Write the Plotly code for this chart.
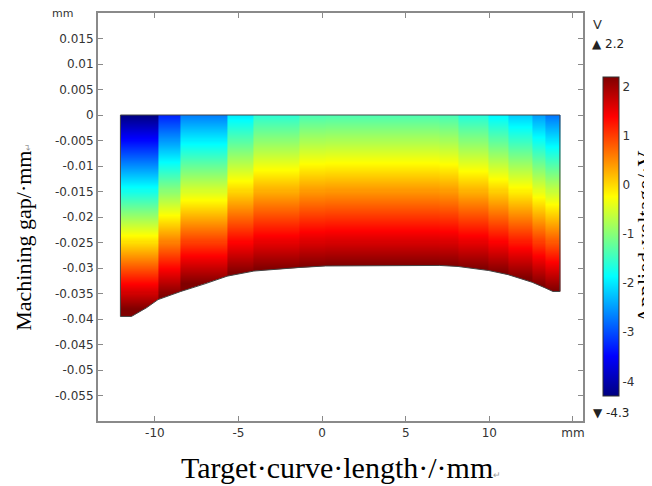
import numpy as np
import plotly.graph_objects as go

# column edges of the solution bands along the target curve (mm)
col_edges = [-12.06, -9.81, -8.45, -5.68, -4.08, -1.38, 0.22, 7.04, 8.13, 9.97, 11.12, 12.56, 13.34, 14.22]
# voltage at the tool side (y = 0) for each band (V)
top_volt = [-4.3, -3.3, -2.7, -2.0, -1.6, -1.4, -1.38, -1.42, -1.65, -1.93, -2.2, -2.5, -2.75]
# voltage at the workpiece side of each band (V)
bot_volt = [2.2, 2.2, 2.2, 2.2, 2.2, 2.2, 2.2, 2.2, 2.2, 2.2, 2.2, 2.2, 2.2]
# mean gap depth of each band (mm)
band_depth = [-0.038, -0.0354, -0.0331, -0.031, -0.0302, -0.0297, -0.0295, -0.0296, -0.0301, -0.0309, -0.032, -0.0334, -0.0345]

# lower boundary of the gap (workpiece surface)
bnd_x = [-12.06, -11.4, -10.5, -9.81, -8.45, -7.0, -5.68, -4.08, -1.38, 0.22, 7.04, 8.13, 9.97, 11.12, 12.56, 13.34, 13.8, 14.22]
bnd_y = [-0.0395, -0.0395, -0.0378, -0.0362, -0.0346, -0.0331, -0.0316, -0.0306, -0.0299, -0.0296, -0.0295, -0.0297, -0.0305, -0.0313, -0.0328, -0.0339, -0.0346, -0.0346]

zmin, zmax = -4.3, 2.2

x_ticks = [-10, -5, 0, 5, 10, 15]
x_text = ["-10", "-5", "0", "5", "10", "mm"]
y_ticks = [-0.055, -0.05, -0.045, -0.04, -0.035, -0.03, -0.025, -0.02, -0.015, -0.01, -0.005, 0, 0.005, 0.01, 0.015, 0.02]
y_text = ["-0.055", "-0.05", "-0.045", "-0.04", "-0.035", "-0.03", "-0.025", "-0.02", "-0.015", "-0.01", "-0.005", "0", "0.005", "0.01", "0.015", ""]
cb_ticks = [-4, -3, -2, -1, 0, 1, 2]

jet = [[0, "rgb(0,0,128)"], [0.125, "rgb(0,0,255)"], [0.375, "rgb(0,255,255)"],
       [0.625, "rgb(255,255,0)"], [0.875, "rgb(255,0,0)"], [1, "rgb(128,0,0)"]]

# vertical field in each band: linear between tool and workpiece values
y_edges = np.linspace(-0.0400, 0.0, 201)
yc = 0.5 * (y_edges[:-1] + y_edges[1:])
z = np.zeros((len(yc), len(top_volt)))
for j in range(len(top_volt)):
    z[:, j] = top_volt[j] + (bot_volt[j] - top_volt[j]) * yc / band_depth[j]
z = np.clip(z, zmin, zmax)

fig = go.Figure()
fig.add_trace(go.Heatmap(
    x=col_edges, y=y_edges, z=z, zmin=zmin, zmax=zmax, colorscale=jet, zsmooth=False,
    hoverinfo="skip",
    colorbar=dict(
        x=1.0412, xanchor="left", xpad=0, y=0.452, yanchor="middle", ypad=0,
        len=0.782, lenmode="fraction", thickness=16,
        outlinecolor="#333333", outlinewidth=1,
        tickvals=cb_ticks, ticktext=[str(v) for v in cb_ticks], ticks="",
        tickfont=dict(family="DejaVu Sans", size=12, color="#333333"),
    ),
))

# white cover below the workpiece surface
mask_x = [-12.4] + bnd_x + [14.6, 14.6, -12.4]
mask_y = [bnd_y[0]] + bnd_y + [bnd_y[-1], -0.0412, -0.0412]
fig.add_trace(go.Scatter(x=mask_x, y=mask_y, fill="toself", fillcolor="white",
                         mode="lines", line=dict(width=0), hoverinfo="skip", showlegend=False))

# outline of the gap domain
out_x = [bnd_x[0], bnd_x[-1]] + bnd_x[::-1] + [bnd_x[0]]
out_y = [0, 0] + bnd_y[::-1] + [0]
fig.add_trace(go.Scatter(x=out_x, y=out_y, mode="lines", line=dict(color="#444444", width=1),
                         hoverinfo="skip", showlegend=False))

axis_common = dict(showline=True, linecolor="#8a8a8a", linewidth=2, mirror="ticks",
                   ticks="inside", ticklen=5, tickcolor="#8a8a8a", tickwidth=1,
                   showgrid=False, zeroline=False,
                   tickfont=dict(family="DejaVu Sans", size=12, color="#333333"))

# the page body adds an 8 px offset, so the figure is 8 px smaller on each side
fig.update_layout(
    width=644, height=478,
    margin=dict(l=90, r=69, t=5, b=65, autoexpand=False),
    paper_bgcolor="white", plot_bgcolor="white",
    showlegend=False,
    xaxis=dict(range=[-13.4, 15.6], tickvals=x_ticks, ticktext=x_text, **axis_common),
    yaxis=dict(range=[-0.06, 0.02], tickvals=y_ticks, ticktext=y_text, **axis_common),
)

serif = "Liberation Serif"
small_ret = "<span style='font-size:9px;color:#999999'>↵</span>"
fig.add_annotation(text="Target·curve·length·/·mm" + small_ret, xref="paper", yref="paper",
                   x=0.50, y=-0.114, showarrow=False, xanchor="center", yanchor="middle",
                   font=dict(family=serif, size=30, color="black"))
fig.add_annotation(text="Machining gap/·mm" + small_ret, xref="paper", yref="paper",
                   x=-0.153, y=0.451, showarrow=False, textangle=-90, xanchor="center", yanchor="middle",
                   font=dict(family=serif, size=22, color="black"))
fig.add_annotation(text="Applied·voltage/·V" + small_ret, xref="paper", yref="paper",
                   x=1.127, y=0.46, showarrow=False, textangle=-90, xanchor="center", yanchor="middle",
                   font=dict(family=serif, size=22, color="black"))
# unit label in place of the top y tick label
fig.add_annotation(text="mm", xref="paper", yref="paper", x=-0.047, y=1.0, showarrow=False,
                   xanchor="right", yanchor="middle",
                   font=dict(family="DejaVu Sans", size=11, color="#333333"))
fig.add_annotation(text="V", xref="paper", yref="paper", x=1.0289, y=0.973, showarrow=False,
                   xanchor="center", yanchor="middle",
                   font=dict(family="DejaVu Sans", size=13, color="#333333"))
fig.add_annotation(text="▲ 2.2", xref="paper", yref="paper", x=1.0144, y=0.924, showarrow=False,
                   xanchor="left", yanchor="middle",
                   font=dict(family="DejaVu Sans", size=12, color="#222222"))
fig.add_annotation(text="▼ -4.3", xref="paper", yref="paper", x=1.0165, y=0.0196, showarrow=False,
                   xanchor="left", yanchor="middle",
                   font=dict(family="DejaVu Sans", size=12, color="#222222"))
fig.add_annotation(text="↵", xref="paper", yref="paper", x=1.134, y=-0.04, showarrow=False,
                   xanchor="center", yanchor="middle",
                   font=dict(family="DejaVu Sans", size=9, color="#999999"))

fig.write_html("out.html")
